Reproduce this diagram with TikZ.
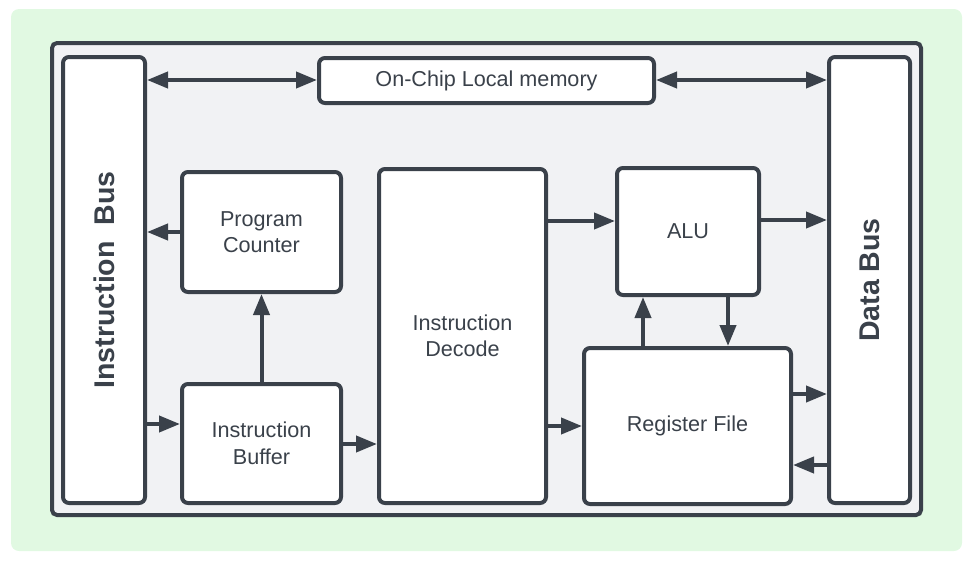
\documentclass[tikz,border=0pt]{standalone}
\usepackage{fontspec}
\setmainfont{Liberation Sans}
\usetikzlibrary{arrows.meta}
\definecolor{ink}{HTML}{3A414A}
\definecolor{bggreen}{HTML}{E1F9E2}
\definecolor{panel}{HTML}{F1F2F4}
\tikzset{
  blk/.style={draw=ink, fill=white, line width=4pt, rounded corners=6pt, inner sep=0pt,
     align=center, text=ink, font=\fontsize{21.6}{26.5}\selectfont},
  busblk/.style={blk, font=\fontsize{28.5}{32}\bfseries\selectfont},
  arr/.style={draw=ink, line width=4pt, -{Triangle[length=21pt,width=16pt]}},
  darr/.style={draw=ink, line width=4pt, {Triangle[length=21pt,width=16pt]}-{Triangle[length=21pt,width=16pt]}}
}
\begin{document}
\begin{tikzpicture}[x=1pt,y=-1pt]
\useasboundingbox (0,0) rectangle (976,562);
\fill[bggreen, rounded corners=8pt] (11,9) rectangle (962,551);
\draw[ink, fill=panel, line width=4pt, rounded corners=5pt] (52,43) rectangle (921,515);

\node[busblk, minimum width=82pt, minimum height=446pt] (ibus) at (104,280) {};
\node[ink, font=\fontsize{28.5}{32}\bfseries\selectfont, rotate=90] (ibustxt) at (ibus.center) {Instruction\ \ Bus};
\node[busblk, minimum width=81pt, minimum height=446pt] (dbus) at (869.5,280) {};
\node[ink, font=\fontsize{28.5}{32}\bfseries\selectfont, rotate=90] (dbustxt) at (dbus.center) {Data Bus};

\node[blk, minimum width=335pt, minimum height=45pt] (mem) at (486.5,80.5) {On-Chip Local memory};
\node[blk, minimum width=159pt, minimum height=120pt] (pc) at (261.5,232) {Program\\Counter};
\node[blk, minimum width=159pt, minimum height=119pt] (ibuf) at (261.5,443.5) {Instruction\\Buffer};
\node[blk, minimum width=167pt, minimum height=334pt] (dec) at (462.5,336) {Instruction\\Decode};
\node[blk, minimum width=142pt, minimum height=127pt] (alu) at (688,231.5) {ALU};
\node[blk, minimum width=207pt, minimum height=156pt] (rf) at (687.5,426) {Register File};

\coordinate (ymem) at (0,80);
\coordinate (yibuf) at (0,424);
\coordinate (ydec) at (0,444);
\coordinate (yalu) at (0,221);
\coordinate (yaluout) at (0,220);
\coordinate (yrfout) at (0,394);
\coordinate (yrfin) at (0,465);
\coordinate (xup) at (643,0);
\coordinate (xdown) at (728,0);

\draw[darr] (ibus.east |- ymem) -- (mem.west |- ymem);
\draw[darr] (mem.east |- ymem) -- (dbus.west |- ymem);
\draw[arr] (pc.west) -- (ibus.east |- pc.west);
\draw[arr] (ibus.east |- yibuf) -- (ibuf.west |- yibuf);
\draw[arr] (ibuf.north) -- (pc.south);
\draw[arr] (ibuf.east |- ydec) -- (dec.west |- ydec);
\draw[arr] (dec.east |- yalu) -- (alu.west |- yalu);
\draw[arr] (dec.east |- rf.west) -- (rf.west);
\draw[arr] (alu.east |- yaluout) -- (dbus.west |- yaluout);
\draw[arr] (rf.north -| xup) -- (alu.south -| xup);
\draw[arr] (alu.south -| xdown) -- (rf.north -| xdown);
\draw[arr] (rf.east |- yrfout) -- (dbus.west |- yrfout);
\draw[arr] (dbus.west |- yrfin) -- (rf.east |- yrfin);
\end{tikzpicture}
\end{document}
